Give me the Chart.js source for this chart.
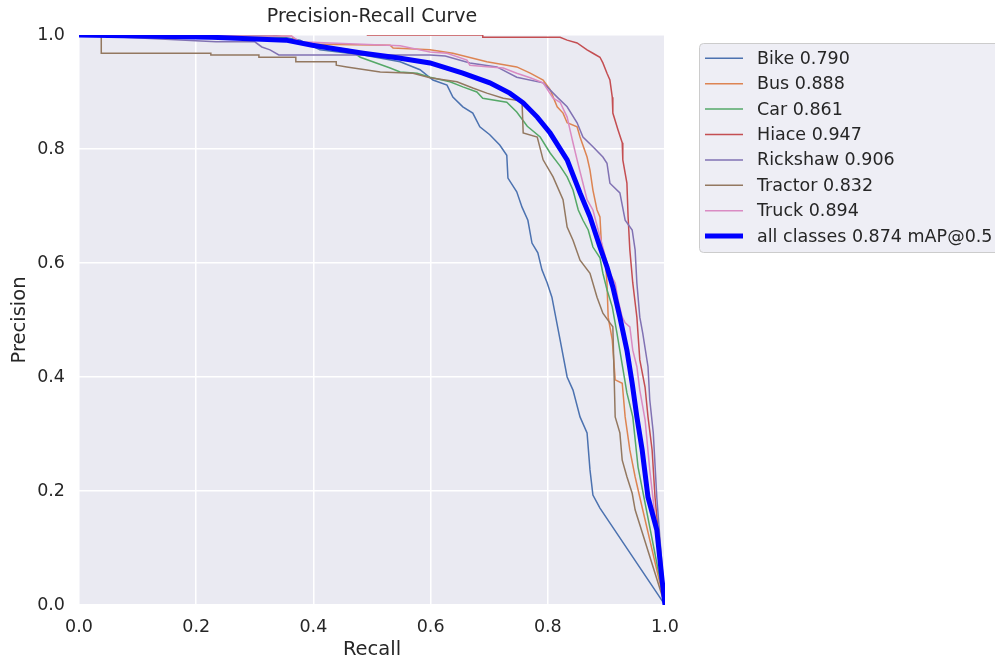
<!DOCTYPE html>
<html>
<head>
<meta charset="utf-8">
<script src="https://cdn.jsdelivr.net/npm/chart.js@4/dist/chart.umd.min.js"></script>
<style>
  html, body { margin: 0; padding: 0; background: #ffffff; }
  #wrap { width: 995px; height: 662px; position: relative; }
</style>
</head>
<body>
<div id="wrap"><canvas id="c" width="995" height="662"></canvas></div>
<script>
// ---- Data ----
const classNames = ["Bike", "Bus", "Car", "Hiace", "Rickshaw", "Tractor", "Truck"];
const classAP = [0.790, 0.888, 0.861, 0.947, 0.906, 0.832, 0.894];
const allClassesLabel = "all classes 0.874 mAP@0.5";
const xTickValues = [0.0, 0.2, 0.4, 0.6, 0.8, 1.0];
const yTickValues = [0.0, 0.2, 0.4, 0.6, 0.8, 1.0];

const bikeRecall = [0, 0.33, 0.377, 0.411, 0.485, 0.548, 0.582, 0.604, 0.628, 0.638, 0.655, 0.672, 0.684, 0.701, 0.718, 0.730, 0.732, 0.747, 0.756, 0.766, 0.773, 0.783, 0.790, 0.799, 0.807, 0.821, 0.833, 0.843, 0.855, 0.867, 0.872, 0.877, 0.889, 1.0];
const bikePrecision = [1, 1, 0.991, 0.974, 0.965, 0.953, 0.939, 0.921, 0.912, 0.891, 0.874, 0.863, 0.839, 0.825, 0.807, 0.789, 0.749, 0.725, 0.698, 0.675, 0.635, 0.618, 0.588, 0.565, 0.540, 0.465, 0.400, 0.377, 0.330, 0.302, 0.237, 0.193, 0.170, 0.0];

const busRecall = [0, 0.363, 0.377, 0.531, 0.536, 0.599, 0.638, 0.696, 0.730, 0.747, 0.770, 0.792, 0.804, 0.816, 0.826, 0.833, 0.850, 0.855, 0.867, 0.872, 0.877, 0.884, 0.889, 0.892, 0.898, 0.901, 0.903, 0.910, 0.915, 0.927, 0.932, 0.940, 0.949, 0.957, 1.0];
const busPrecision = [1, 0.998, 0.984, 0.982, 0.977, 0.974, 0.968, 0.953, 0.947, 0.944, 0.933, 0.921, 0.904, 0.874, 0.863, 0.846, 0.839, 0.821, 0.786, 0.763, 0.728, 0.693, 0.681, 0.623, 0.605, 0.565, 0.505, 0.465, 0.395, 0.389, 0.330, 0.272, 0.225, 0.189, 0.0];

const carRecall = [0, 0.307, 0.346, 0.377, 0.428, 0.462, 0.480, 0.531, 0.548, 0.577, 0.599, 0.633, 0.655, 0.679, 0.689, 0.730, 0.747, 0.765, 0.787, 0.804, 0.821, 0.833, 0.843, 0.852, 0.860, 0.869, 0.877, 0.889, 0.894, 0.901, 0.910, 0.918, 0.935, 0.945, 0.954, 1.0];
const carPrecision = [1, 0.998, 0.996, 0.986, 0.979, 0.974, 0.961, 0.942, 0.935, 0.933, 0.926, 0.918, 0.909, 0.900, 0.889, 0.882, 0.865, 0.840, 0.821, 0.793, 0.770, 0.751, 0.728, 0.693, 0.675, 0.658, 0.628, 0.609, 0.582, 0.553, 0.523, 0.477, 0.372, 0.330, 0.242, 0.0];

const hiaceRecall = [0.491, 0.689, 0.689, 0.821, 0.833, 0.850, 0.867, 0.877, 0.889, 0.894, 0.901, 0.906, 0.910, 0.911, 0.920, 0.927, 0.928, 0.935, 0.937, 0.940, 0.945, 0.952, 0.957, 0.966, 0.971, 0.978, 0.983, 1.0];
const hiacePrecision = [1.0, 1.0, 0.996, 0.996, 0.991, 0.986, 0.974, 0.968, 0.961, 0.951, 0.933, 0.921, 0.891, 0.863, 0.833, 0.811, 0.781, 0.740, 0.681, 0.623, 0.565, 0.505, 0.430, 0.382, 0.330, 0.272, 0.189, 0.0];

const rickshawRecall = [0, 0.234, 0.300, 0.312, 0.326, 0.341, 0.599, 0.625, 0.667, 0.713, 0.747, 0.792, 0.816, 0.833, 0.850, 0.860, 0.877, 0.894, 0.901, 0.906, 0.923, 0.932, 0.944, 0.949, 0.952, 0.957, 0.962, 0.971, 0.974, 0.980, 0.986, 1.0];
const rickshawPrecision = [1, 0.988, 0.988, 0.979, 0.974, 0.965, 0.965, 0.963, 0.951, 0.944, 0.926, 0.916, 0.891, 0.874, 0.846, 0.821, 0.804, 0.786, 0.775, 0.740, 0.723, 0.675, 0.658, 0.623, 0.565, 0.505, 0.477, 0.418, 0.360, 0.302, 0.189, 0.0];

const tractorRecall = [0, 0.038, 0.038, 0.225, 0.225, 0.307, 0.307, 0.370, 0.370, 0.439, 0.439, 0.457, 0.514, 0.570, 0.599, 0.645, 0.672, 0.696, 0.724, 0.756, 0.758, 0.782, 0.792, 0.809, 0.826, 0.833, 0.843, 0.855, 0.872, 0.884, 0.894, 0.906, 0.911, 0.915, 0.923, 0.927, 0.935, 0.944, 0.949, 1.0];
const tractorPrecision = [1, 1.0, 0.968, 0.968, 0.965, 0.965, 0.961, 0.961, 0.953, 0.953, 0.947, 0.944, 0.935, 0.933, 0.925, 0.918, 0.907, 0.898, 0.889, 0.884, 0.828, 0.821, 0.781, 0.751, 0.711, 0.663, 0.640, 0.605, 0.582, 0.540, 0.512, 0.495, 0.488, 0.330, 0.302, 0.254, 0.225, 0.196, 0.167, 0.0];

const truckRecall = [0, 0.363, 0.377, 0.428, 0.548, 0.599, 0.628, 0.662, 0.667, 0.701, 0.724, 0.747, 0.770, 0.792, 0.809, 0.821, 0.833, 0.838, 0.843, 0.850, 0.860, 0.867, 0.877, 0.886, 0.892, 0.901, 0.906, 0.915, 0.920, 0.927, 0.932, 0.940, 0.945, 0.952, 0.957, 0.966, 0.974, 1.0];
const truckPrecision = [1, 0.998, 0.988, 0.986, 0.981, 0.970, 0.968, 0.956, 0.947, 0.944, 0.942, 0.933, 0.925, 0.916, 0.889, 0.882, 0.856, 0.833, 0.811, 0.781, 0.740, 0.711, 0.693, 0.658, 0.635, 0.600, 0.582, 0.565, 0.535, 0.505, 0.495, 0.488, 0.447, 0.418, 0.377, 0.325, 0.237, 0.0];

const allRecall = [0, 0.227, 0.353, 0.398, 0.485, 0.543, 0.599, 0.655, 0.701, 0.735, 0.758, 0.782, 0.804, 0.833, 0.855, 0.872, 0.889, 0.901, 0.911, 0.923, 0.935, 0.944, 0.952, 0.961, 0.971, 0.986, 0.995, 1.0];
const allPrecision = [1.0, 0.996, 0.991, 0.982, 0.968, 0.960, 0.951, 0.933, 0.916, 0.898, 0.881, 0.856, 0.828, 0.781, 0.723, 0.681, 0.628, 0.593, 0.558, 0.505, 0.447, 0.389, 0.330, 0.272, 0.189, 0.132, 0.044, 0.0];

// ---- Styles ----
const classColors = ["#4C72B0", "#DD8452", "#55A868", "#C44E52", "#8172B3", "#937860", "#DA8BC3"];
const allColor = "#0000FF";
const FONT = "'DejaVu Sans', 'Liberation Sans', sans-serif";
const TEXT = "#262626";

function pts(r, p) { return r.map((x, i) => ({ x: x, y: p[i] })); }

const classRecalls = [bikeRecall, busRecall, carRecall, hiaceRecall, rickshawRecall, tractorRecall, truckRecall];
const classPrecisions = [bikePrecision, busPrecision, carPrecision, hiacePrecision, rickshawPrecision, tractorPrecision, truckPrecision];

const datasets = classNames.map((name, i) => ({
  label: name + " " + classAP[i].toFixed(3),
  data: pts(classRecalls[i], classPrecisions[i]),
  borderColor: classColors[i],
  backgroundColor: classColors[i],
  borderWidth: 1.5,
  pointRadius: 0,
  tension: 0,
  fill: false,
  order: 10 - i
}));
datasets.push({
  label: allClassesLabel,
  data: pts(allRecall, allPrecision),
  borderColor: allColor,
  backgroundColor: allColor,
  borderWidth: 5,
  pointRadius: 0,
  tension: 0,
  fill: false,
  order: 1
});

const bgPlugin = {
  id: 'plotBg',
  beforeDraw(chart) {
    const { ctx, chartArea: a } = chart;
    ctx.save();
    ctx.fillStyle = '#EAEAF2';
    ctx.fillRect(a.left, a.top, a.right - a.left, a.bottom - a.top);
    ctx.restore();
  }
};

const legendPlugin = {
  id: 'customLegend',
  afterDraw(chart) {
    const ctx = chart.ctx;
    ctx.save();
    const x0 = 699.5, y0 = 43.5, w = 320, h = 209, r = 4;
    ctx.beginPath();
    ctx.moveTo(x0 + r, y0);
    ctx.lineTo(x0 + w - r, y0);
    ctx.quadraticCurveTo(x0 + w, y0, x0 + w, y0 + r);
    ctx.lineTo(x0 + w, y0 + h - r);
    ctx.quadraticCurveTo(x0 + w, y0 + h, x0 + w - r, y0 + h);
    ctx.lineTo(x0 + r, y0 + h);
    ctx.quadraticCurveTo(x0, y0 + h, x0, y0 + h - r);
    ctx.lineTo(x0, y0 + r);
    ctx.quadraticCurveTo(x0, y0, x0 + r, y0);
    ctx.closePath();
    ctx.fillStyle = 'rgba(234,234,242,0.8)';
    ctx.fill();
    ctx.strokeStyle = '#CCCCCC';
    ctx.lineWidth = 1;
    ctx.stroke();
    const ds = chart.data.datasets;
    ctx.font = "17.5px " + FONT;
    ctx.textBaseline = 'middle';
    ctx.textAlign = 'left';
    ds.forEach((d, i) => {
      const y = 58.3 + i * 25.4;
      ctx.beginPath();
      ctx.strokeStyle = d.borderColor;
      ctx.lineWidth = d.borderWidth;
      ctx.lineCap = 'butt';
      ctx.moveTo(705, y);
      ctx.lineTo(743, y);
      ctx.stroke();
      ctx.fillStyle = TEXT;
      ctx.fillText(d.label, 757, y + 1);
    });
    ctx.restore();
  }
};

new Chart(document.getElementById('c'), {
  type: 'line',
  data: { datasets: datasets },
  plugins: [bgPlugin, legendPlugin],
  options: {
    responsive: false,
    animation: false,
    layout: { padding: { left: 0, right: 330, top: 0, bottom: 0 } },
    plugins: {
      legend: { display: false },
      tooltip: { enabled: false },
      title: {
        display: true,
        text: 'Precision-Recall Curve',
        fullSize: false,
        color: TEXT,
        font: { family: FONT, size: 19, weight: 'normal' },
        padding: { top: 6, bottom: 6.2 }
      }
    },
    scales: {
      x: {
        type: 'linear',
        min: 0, max: 1,
        afterFit(s) { s.height = 57; },
        afterBuildTicks(s) { s.ticks = xTickValues.map(v => ({ value: v })); },
        grid: { color: '#FFFFFF', lineWidth: 1.5, drawTicks: false },
        border: { display: false },
        ticks: {
          padding: 12,
          color: TEXT,
          font: { family: FONT, size: 17.5 },
          callback: v => Number(v).toFixed(1),
          maxRotation: 0
        },
        title: {
          display: true, text: 'Recall', color: TEXT,
          font: { family: FONT, size: 19.5 },
          padding: { top: 0, bottom: 0 }
        }
      },
      y: {
        type: 'linear',
        min: 0, max: 1,
        afterFit(s) { s.width = 79; },
        afterBuildTicks(s) { s.ticks = yTickValues.map(v => ({ value: v })); },
        grid: { color: '#FFFFFF', lineWidth: 1.5, drawTicks: false },
        border: { display: false },
        ticks: {
          padding: 14,
          color: TEXT,
          font: { family: FONT, size: 17.5 },
          callback: v => Number(v).toFixed(1)
        },
        title: {
          display: true, text: 'Precision', color: TEXT,
          font: { family: FONT, size: 19.5 },
          padding: { top: 8, bottom: 0 }
        }
      }
    }
  }
});
</script>
</body>
</html>
